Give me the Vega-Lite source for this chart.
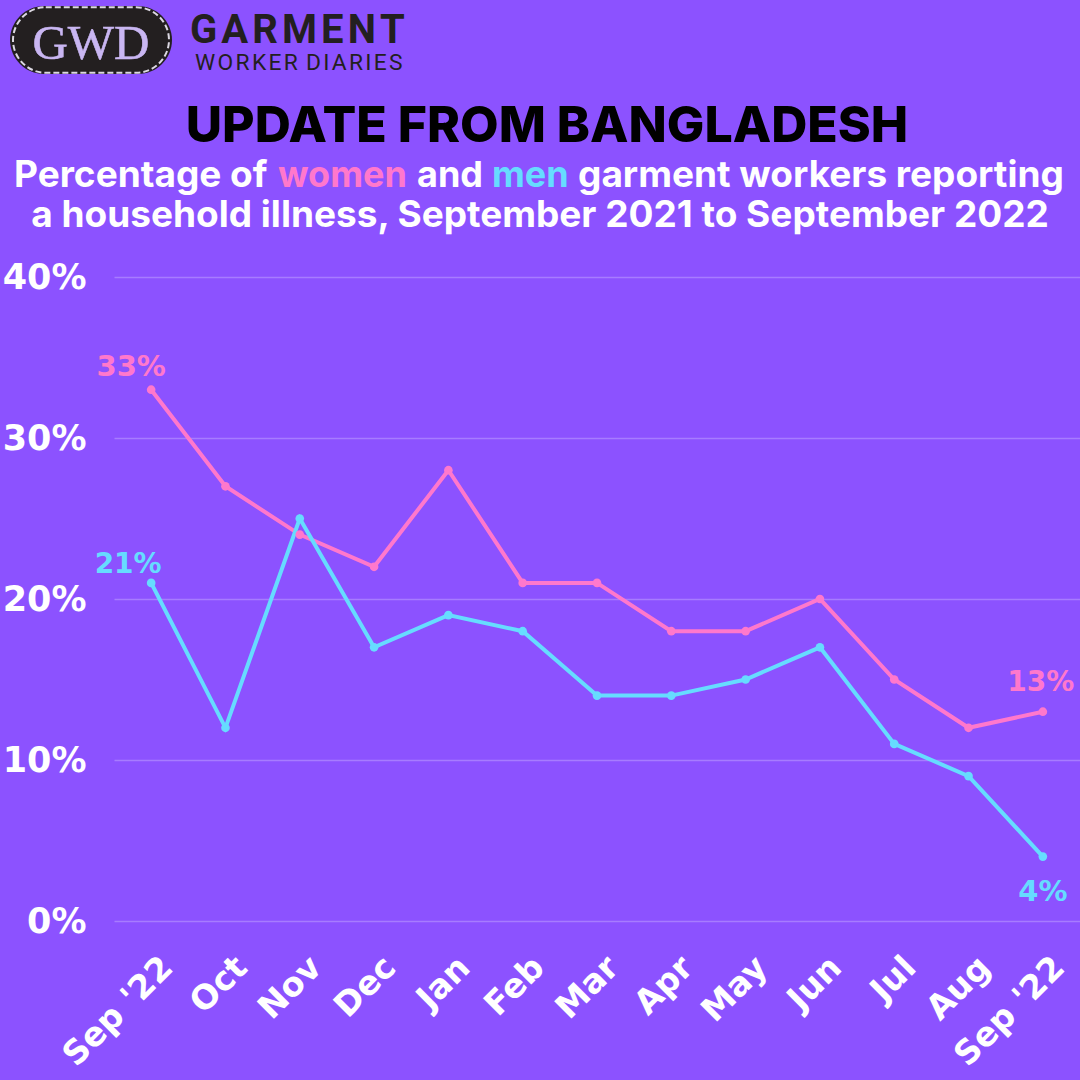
{
  "$schema": "https://vega.github.io/schema/vega-lite/v6.json",
  "width": 966,
  "height": 644,
  "autosize": "none",
  "padding": {"left": 114, "top": 277, "right": 0, "bottom": 159},
  "background": "#8c52ff",
  "view": {"stroke": null},
  "datasets": {
    "illness": [
      {"month": "2021-09", "group": "women", "pct": 33, "label": "33%"},
      {"month": "2021-10", "group": "women", "pct": 27},
      {"month": "2021-11", "group": "women", "pct": 24},
      {"month": "2021-12", "group": "women", "pct": 22},
      {"month": "2022-01", "group": "women", "pct": 28},
      {"month": "2022-02", "group": "women", "pct": 21},
      {"month": "2022-03", "group": "women", "pct": 21},
      {"month": "2022-04", "group": "women", "pct": 18},
      {"month": "2022-05", "group": "women", "pct": 18},
      {"month": "2022-06", "group": "women", "pct": 20},
      {"month": "2022-07", "group": "women", "pct": 15},
      {"month": "2022-08", "group": "women", "pct": 12},
      {"month": "2022-09", "group": "women", "pct": 13, "label": "13%"},
      {"month": "2021-09", "group": "men", "pct": 21, "label": "21%"},
      {"month": "2021-10", "group": "men", "pct": 12},
      {"month": "2021-11", "group": "men", "pct": 25},
      {"month": "2021-12", "group": "men", "pct": 17},
      {"month": "2022-01", "group": "men", "pct": 19},
      {"month": "2022-02", "group": "men", "pct": 18},
      {"month": "2022-03", "group": "men", "pct": 14},
      {"month": "2022-04", "group": "men", "pct": 14},
      {"month": "2022-05", "group": "men", "pct": 15},
      {"month": "2022-06", "group": "men", "pct": 17},
      {"month": "2022-07", "group": "men", "pct": 11},
      {"month": "2022-08", "group": "men", "pct": 9},
      {"month": "2022-09", "group": "men", "pct": 4, "label": "4%"}
    ],
    "header": [
      {"piece": "gwd", "text": "GWD"},
      {"piece": "garment", "text": "G\u200aA\u200aR\u200aM\u200aE\u200aN\u200aT"},
      {"piece": "diaries", "text": "W\u200aO\u200aR\u200aK\u200aE\u200aR \u200aD\u200aI\u200aA\u200aR\u200aI\u200aE\u200aS"},
      {"piece": "heading", "text": "UPDATE FROM BANGLADESH"},
      {"piece": "sub1", "text": "Percentage of"},
      {"piece": "women", "text": "women"},
      {"piece": "and", "text": "and"},
      {"piece": "men", "text": "men"},
      {"piece": "sub2", "text": "garment workers reporting"},
      {"piece": "sub3", "text": "a household illness, September 2021 to September 2022"}
    ]
  },
  "layer": [
    {
      "data": {"name": "illness"},
      "encoding": {
        "x": {
          "field": "month",
          "type": "ordinal",
          "scale": {"type": "point", "padding": 0.5},
          "axis": {
            "title": null,
            "domain": false,
            "ticks": false,
            "labelAngle": -45,
            "labelAlign": "right",
            "labelBaseline": "middle",
            "labelPadding": 41,
            "labelOffset": 16,
            "labelFont": "DejaVu Sans",
            "labelFontWeight": "bold",
            "labelFontSize": 33.5,
            "labelColor": "#ffffff",
            "labelOverlap": false,
            "labelExpr": "{'2021-09':\"Sep '22\",'2021-10':'Oct','2021-11':'Nov','2021-12':'Dec','2022-01':'Jan','2022-02':'Feb','2022-03':'Mar','2022-04':'Apr','2022-05':'May','2022-06':'Jun','2022-07':'Jul','2022-08':'Aug','2022-09':\"Sep '22\"}[datum.value]"
          }
        },
        "y": {
          "field": "pct",
          "type": "quantitative",
          "scale": {"domain": [0, 40], "nice": false},
          "axis": {
            "title": null,
            "values": [0, 10, 20, 30, 40],
            "format": "d",
            "labelExpr": "datum.value + '%'",
            "domain": false,
            "ticks": false,
            "grid": true,
            "gridColor": "#a77cff",
            "gridWidth": 1.5,
            "labelPadding": 28,
            "labelFont": "DejaVu Sans",
            "labelFontWeight": "bold",
            "labelFontSize": 35,
            "labelColor": "#ffffff"
          }
        },
        "color": {
          "field": "group",
          "type": "nominal",
          "scale": {"domain": ["women", "men"], "range": ["#ff78cc", "#66dcff"]},
          "legend": null
        }
      },
      "layer": [
        {"mark": {"type": "line", "strokeWidth": 4}},
        {"mark": {"type": "point", "filled": true, "opacity": 1, "size": 75}},
        {
          "transform": [{"filter": "datum.label == '33%'"}],
          "mark": {"type": "text", "dx": -20, "dy": -23, "font": "DejaVu Sans", "fontWeight": "bold", "fontSize": 29},
          "encoding": {"text": {"field": "label"}}
        },
        {
          "transform": [{"filter": "datum.label == '21%'"}],
          "mark": {"type": "text", "dx": -23, "dy": -18, "font": "DejaVu Sans", "fontWeight": "bold", "fontSize": 28},
          "encoding": {"text": {"field": "label"}}
        },
        {
          "transform": [{"filter": "datum.label == '13%'"}],
          "mark": {"type": "text", "dx": -2, "dy": -29, "font": "DejaVu Sans", "fontWeight": "bold", "fontSize": 28},
          "encoding": {"text": {"field": "label"}}
        },
        {
          "transform": [{"filter": "datum.label == '4%'"}],
          "mark": {"type": "text", "dx": 0, "dy": 35, "font": "DejaVu Sans", "fontWeight": "bold", "fontSize": 29},
          "encoding": {"text": {"field": "label"}}
        }
      ]
    },
    {
      "data": {"name": "header"},
      "layer": [
        {
          "transform": [{"filter": "datum.piece == 'gwd'"}],
          "mark": {"type": "point", "filled": true, "opacity": 1, "color": "#231f20", "size": 26244,
            "shape": "M-0.58,-0.42 L0.58,-0.42 C0.81,-0.42 1,-0.23 1,0 C1,0.23 0.81,0.42 0.58,0.42 L-0.58,0.42 C-0.81,0.42 -1,0.23 -1,0 C-1,-0.23 -0.81,-0.42 -0.58,-0.42 Z"},
          "encoding": {
            "x": {"datum": 91, "type": "quantitative", "scale": {"domain": [0, 1080], "range": [-114, 966], "nice": false, "zero": false}, "axis": null},
            "y": {"datum": 40, "type": "quantitative", "scale": {"domain": [0, 1080], "range": [-277, 803], "nice": false, "zero": false}, "axis": null}
          }
        },
        {
          "transform": [{"filter": "datum.piece == 'gwd'"}],
          "mark": {"type": "point", "filled": false, "opacity": 1, "color": "#dcd8e2", "size": 24336, "strokeWidth": 2, "strokeDash": [6, 3],
            "shape": "M-0.58,-0.42 L0.58,-0.42 C0.81,-0.42 1,-0.23 1,0 C1,0.23 0.81,0.42 0.58,0.42 L-0.58,0.42 C-0.81,0.42 -1,0.23 -1,0 C-1,-0.23 -0.81,-0.42 -0.58,-0.42 Z"},
          "encoding": {
            "x": {"datum": 91, "type": "quantitative", "scale": {"domain": [0, 1080], "range": [-114, 966], "nice": false, "zero": false}, "axis": null},
            "y": {"datum": 40, "type": "quantitative", "scale": {"domain": [0, 1080], "range": [-277, 803], "nice": false, "zero": false}, "axis": null}
          }
        },
        {
          "transform": [{"filter": "datum.piece == 'gwd'"}],
          "mark": {"type": "text", "align": "center", "baseline": "alphabetic", "font": "Liberation Serif", "fontSize": 49, "color": "#c9b6f2", "stroke": "#c9b6f2", "strokeWidth": 0.6},
          "encoding": {
            "text": {"field": "text"},
            "x": {"datum": 91, "type": "quantitative", "scale": {"domain": [0, 1080], "range": [-114, 966], "nice": false, "zero": false}, "axis": null},
            "y": {"datum": 59, "type": "quantitative", "scale": {"domain": [0, 1080], "range": [-277, 803], "nice": false, "zero": false}, "axis": null}
          }
        },
        {
          "transform": [{"filter": "datum.piece == 'garment'"}],
          "mark": {"type": "text", "align": "left", "baseline": "alphabetic", "font": "Roboto", "fontWeight": "bold", "fontSize": 40, "color": "#231f20"},
          "encoding": {
            "text": {"field": "text"},
            "x": {"datum": 190, "type": "quantitative", "scale": {"domain": [0, 1080], "range": [-114, 966], "nice": false, "zero": false}, "axis": null},
            "y": {"datum": 43, "type": "quantitative", "scale": {"domain": [0, 1080], "range": [-277, 803], "nice": false, "zero": false}, "axis": null}
          }
        },
        {
          "transform": [{"filter": "datum.piece == 'diaries'"}],
          "mark": {"type": "text", "align": "left", "baseline": "alphabetic", "font": "Roboto", "fontSize": 22.8, "color": "#231f20"},
          "encoding": {
            "text": {"field": "text"},
            "x": {"datum": 195, "type": "quantitative", "scale": {"domain": [0, 1080], "range": [-114, 966], "nice": false, "zero": false}, "axis": null},
            "y": {"datum": 70, "type": "quantitative", "scale": {"domain": [0, 1080], "range": [-277, 803], "nice": false, "zero": false}, "axis": null}
          }
        },
        {
          "transform": [{"filter": "datum.piece == 'heading'"}],
          "mark": {"type": "text", "align": "center", "baseline": "alphabetic", "font": "Inter", "fontWeight": 800, "fontSize": 50, "color": "#000000"},
          "encoding": {
            "text": {"field": "text"},
            "x": {"datum": 547, "type": "quantitative", "scale": {"domain": [0, 1080], "range": [-114, 966], "nice": false, "zero": false}, "axis": null},
            "y": {"datum": 142, "type": "quantitative", "scale": {"domain": [0, 1080], "range": [-277, 803], "nice": false, "zero": false}, "axis": null}
          }
        },
        {
          "transform": [{"filter": "datum.piece == 'sub1'"}],
          "mark": {"type": "text", "align": "left", "baseline": "alphabetic", "font": "Inter", "fontWeight": "bold", "fontSize": 37, "color": "#ffffff"},
          "encoding": {
            "text": {"field": "text"},
            "x": {"datum": 14, "type": "quantitative", "scale": {"domain": [0, 1080], "range": [-114, 966], "nice": false, "zero": false}, "axis": null},
            "y": {"datum": 187, "type": "quantitative", "scale": {"domain": [0, 1080], "range": [-277, 803], "nice": false, "zero": false}, "axis": null}
          }
        },
        {
          "transform": [{"filter": "datum.piece == 'women'"}],
          "mark": {"type": "text", "align": "left", "baseline": "alphabetic", "font": "Inter", "fontWeight": "bold", "fontSize": 36, "color": "#ff78cc"},
          "encoding": {
            "text": {"field": "text"},
            "x": {"datum": 278, "type": "quantitative", "scale": {"domain": [0, 1080], "range": [-114, 966], "nice": false, "zero": false}, "axis": null},
            "y": {"datum": 187, "type": "quantitative", "scale": {"domain": [0, 1080], "range": [-277, 803], "nice": false, "zero": false}, "axis": null}
          }
        },
        {
          "transform": [{"filter": "datum.piece == 'and'"}],
          "mark": {"type": "text", "align": "left", "baseline": "alphabetic", "font": "Inter", "fontWeight": "bold", "fontSize": 36, "color": "#ffffff"},
          "encoding": {
            "text": {"field": "text"},
            "x": {"datum": 417, "type": "quantitative", "scale": {"domain": [0, 1080], "range": [-114, 966], "nice": false, "zero": false}, "axis": null},
            "y": {"datum": 187, "type": "quantitative", "scale": {"domain": [0, 1080], "range": [-277, 803], "nice": false, "zero": false}, "axis": null}
          }
        },
        {
          "transform": [{"filter": "datum.piece == 'men'"}],
          "mark": {"type": "text", "align": "left", "baseline": "alphabetic", "font": "Inter", "fontWeight": "bold", "fontSize": 36, "color": "#66dcff"},
          "encoding": {
            "text": {"field": "text"},
            "x": {"datum": 492, "type": "quantitative", "scale": {"domain": [0, 1080], "range": [-114, 966], "nice": false, "zero": false}, "axis": null},
            "y": {"datum": 187, "type": "quantitative", "scale": {"domain": [0, 1080], "range": [-277, 803], "nice": false, "zero": false}, "axis": null}
          }
        },
        {
          "transform": [{"filter": "datum.piece == 'sub2'"}],
          "mark": {"type": "text", "align": "left", "baseline": "alphabetic", "font": "Inter", "fontWeight": "bold", "fontSize": 37, "color": "#ffffff"},
          "encoding": {
            "text": {"field": "text"},
            "x": {"datum": 578, "type": "quantitative", "scale": {"domain": [0, 1080], "range": [-114, 966], "nice": false, "zero": false}, "axis": null},
            "y": {"datum": 187, "type": "quantitative", "scale": {"domain": [0, 1080], "range": [-277, 803], "nice": false, "zero": false}, "axis": null}
          }
        },
        {
          "transform": [{"filter": "datum.piece == 'sub3'"}],
          "mark": {"type": "text", "align": "center", "baseline": "alphabetic", "font": "Inter", "fontWeight": "bold", "fontSize": 37, "color": "#ffffff"},
          "encoding": {
            "text": {"field": "text"},
            "x": {"datum": 540, "type": "quantitative", "scale": {"domain": [0, 1080], "range": [-114, 966], "nice": false, "zero": false}, "axis": null},
            "y": {"datum": 227, "type": "quantitative", "scale": {"domain": [0, 1080], "range": [-277, 803], "nice": false, "zero": false}, "axis": null}
          }
        }
      ]
    }
  ],
  "resolve": {"scale": {"x": "independent", "y": "independent", "color": "independent"}}
}
